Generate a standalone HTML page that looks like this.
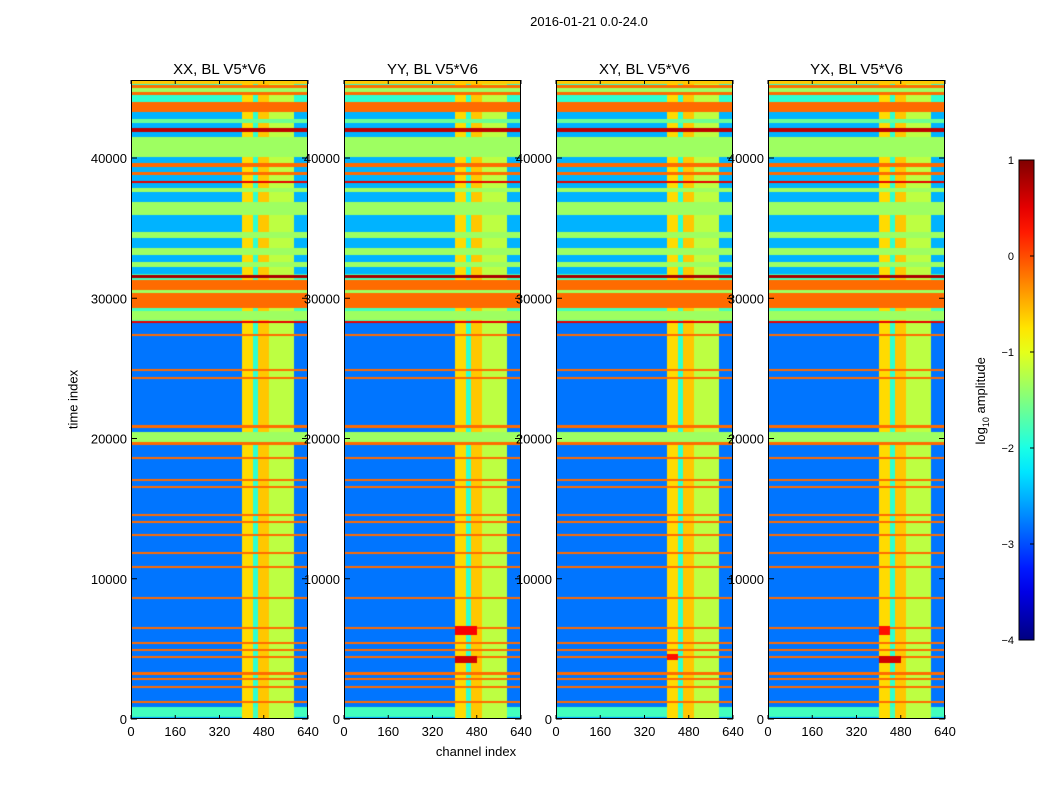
<!DOCTYPE html>
<html><head><meta charset="utf-8">
<style>
body{margin:0;background:#fff;}
#wrap{position:relative;width:1050px;height:800px;background:#fff;font-family:"Liberation Sans",sans-serif;overflow:hidden;}
.t{position:absolute;color:#000;white-space:nowrap;}
canvas{position:absolute;}
svg{position:absolute;left:0;top:0;}
</style></head>
<body>
<div id="wrap">
<div class="t" style="left:489px;top:14px;width:200px;text-align:center;font-size:13px;">2016-01-21 0.0-24.0</div>
<div class="t" style="left:23px;top:392px;width:100px;text-align:center;font-size:13px;transform:rotate(-90deg);">time index</div>
<div class="t" style="left:396px;top:744px;width:160px;text-align:center;font-size:13px;">channel index</div>
<div class="t" style="left:922px;top:392px;width:120px;text-align:center;font-size:13px;transform:rotate(-90deg);">log<sub style="font-size:9px">10</sub> amplitude</div>
<svg id="svg" width="1050" height="800"></svg>
</div>
<script>
// ---- data ----
const panelTitles = ["XX, BL V5*V6","YY, BL V5*V6","XY, BL V5*V6","YX, BL V5*V6"];
const xTicks = [0,160,320,480,640];
const yTicks = [0,10000,20000,30000,40000];
const cbTicks = [1,0,-1,-2,-3,-4];
// base level regions [tStart,tEnd,level]
const baseRegions = [[0,150,-2.6],[150,850,-1.8],[850,28250,-2.8],[28250,31700,-1.8],[31700,38200,-2.5],[38200,43300,-2.5],[43300,45560,-1.9]];
// full-width stripes [tStart,tEnd,level]
const stripes = [[45270,45560,-0.6],[44990,45200,-0.15],[44700,44990,-1.35],[44490,44700,-0.15],[43280,43990,-0.15],[42500,42800,-1.6],[41850,42140,0.7],[40070,41500,-1.35],[39350,39640,-0.15],[38790,39000,-0.15],[38220,38360,0.5],[37575,37860,-1.35],[35935,36860,-1.35],[34300,34720,-1.35],[33080,33580,-1.35],[32230,32580,-1.35],[31440,31660,0.8],[30590,31300,-0.15],[30370,30590,-1.35],[29300,30370,-0.15],[28450,29090,-1.35],[28250,28380,0.5],[27290,27450,-0.15],[24810,24960,-0.15],[24240,24390,-0.15],[20750,20960,-0.15],[19750,20460,-1.35],[19540,19750,-0.15],[18540,18680,-0.15],[16980,17110,-0.15],[16480,16600,-0.15],[14480,14600,-0.15],[13980,14100,-0.15],[13050,13170,-0.15],[11770,11890,-0.15],[10780,10900,-0.15],[8570,8690,-0.15],[6420,6560,-0.15],[5360,5460,-0.15],[4870,4970,-0.15],[4360,4470,-0.15],[3140,3350,-0.15],[2780,2900,-0.15],[2210,2330,-0.15],[1150,1270,-0.15]];
// channel bands [cStart,cEnd,level]
const channelBands = [[0,400,-4],[400,440,-0.7],[440,460,-1.9],[460,500,-0.6],[500,540,-1.2],[540,590,-1.2],[590,640,-4]];
// hot spots per panel [panel,tStart,tEnd,cStart,cEnd,level]
const hotSpots = [[1,4000,4500,400,480,0.6],[1,6000,6600,400,480,0.4],[2,4200,4600,400,440,0.3],[3,4000,4500,400,480,0.6],[3,6000,6600,400,440,0.3]];

// ---- geometry ----
const panelLeft = [131,344,556,768], panelW = 177, pTop = 80, pBot = 719;
const tMax = (pBot-pTop)/140.25*10000;
const vmin=-4, vmax=1;
function jet(v){let n=Math.max(0,Math.min(1,(v-vmin)/(vmax-vmin)));
 const f=x=>Math.round(255*Math.max(0,Math.min(1,1.5-Math.abs(x))));
 return [f(4*n-3),f(4*n-2),f(4*n-1)];}
function yOf(t){return pBot-(t/tMax)*(pBot-pTop);}
function xOf(p,c){return panelLeft[p]+c/640*panelW;}
function valueAt(p,t,c){
 for(const h of hotSpots){if(h[0]===p&&t>=h[1]&&t<h[2]&&c>=h[3]&&c<h[4])return h[5];}
 for(const s of stripes){if(t>=s[0]&&t<s[1])return s[2];}
 let base=-2.5;for(const b of baseRegions){if(t>=b[0]&&t<b[1])base=b[2];}
 let col=-4;for(const cb of channelBands){if(c>=cb[0]&&c<cb[1])col=cb[2];}
 return Math.max(base,col);
}
const wrap=document.getElementById('wrap');
const svg=document.getElementById('svg');
const NS="http://www.w3.org/2000/svg";
function mk(tag,attrs){const e=document.createElementNS(NS,tag);for(const k in attrs)e.setAttribute(k,attrs[k]);svg.appendChild(e);return e;}
for(let p=0;p<4;p++){
 const cv=document.createElement('canvas');
 
 
 cv.width=panelW;cv.height=pBot-pTop;cv.style.left=panelLeft[p]+'px';cv.style.top=pTop+'px';
 wrap.insertBefore(cv,svg);
 const ctx=cv.getContext('2d');const img=ctx.createImageData(cv.width,cv.height);
 for(let y=0;y<cv.height;y++){const t=(pBot-(pTop+y+0.5))/(pBot-pTop)*tMax;
  for(let x=0;x<cv.width;x++){const c=(x+0.5)/panelW*640;const col=jet(valueAt(p,t,c));
   const i=(y*cv.width+x)*4;img.data[i]=col[0];img.data[i+1]=col[1];img.data[i+2]=col[2];img.data[i+3]=255;}}
 ctx.putImageData(img,0,0);
 const fr=mk('rect',{x:panelLeft[p]+0.5,y:pTop+0.5,width:panelW-1,height:pBot-pTop-1,fill:'none',stroke:'#000','stroke-width':1});
 
 
 for(const xt of xTicks){const x=xOf(p,xt);
  mk('line',{x1:x,y1:pBot,x2:x,y2:pBot-4,stroke:'#000'});mk('line',{x1:x,y1:pTop,x2:x,y2:pTop+4,stroke:'#000'});
  const tx=mk('text',{x:x,y:pBot+17,'font-size':13,'text-anchor':'middle','font-family':'Liberation Sans'});tx.textContent=xt;
  
  }
 for(const yt of yTicks){const y=yOf(yt);
  mk('line',{x1:panelLeft[p],y1:y,x2:panelLeft[p]+6,y2:y,stroke:'#000'});mk('line',{x1:panelLeft[p]+panelW,y1:y,x2:panelLeft[p]+panelW-6,y2:y,stroke:'#000'});
  const tx=mk('text',{x:panelLeft[p]-4,y:y+5,'font-size':13,'text-anchor':'end','font-family':'Liberation Sans'});tx.textContent=yt;
  
  }
 const tt=mk('text',{x:panelLeft[p]+panelW/2,y:74,'font-size':15,'text-anchor':'middle','font-family':'Liberation Sans'});tt.textContent=panelTitles[p];
 
 
}
// colorbar
const cbX=1019,cbW=15,cbTop=160,cbBot=640;
const defs=mk('defs',{});const g=document.createElementNS(NS,'linearGradient');
g.setAttribute('id','jetg');g.setAttribute('x1','0');g.setAttribute('y1','1');g.setAttribute('x2','0');g.setAttribute('y2','0');defs.appendChild(g);
for(let i=0;i<=20;i++){const v=vmin+(vmax-vmin)*i/20;const c=jet(v);const s=document.createElementNS(NS,'stop');s.setAttribute('offset',i/20);s.setAttribute('stop-color','rgb('+c+')');g.appendChild(s);}
const cb=mk('rect',{x:cbX,y:cbTop,width:cbW,height:cbBot-cbTop,fill:'url(#jetg)',stroke:'#000'});


for(const v of cbTicks){const y=cbBot-(v-vmin)/(vmax-vmin)*(cbBot-cbTop);
 mk('line',{x1:cbX+cbW-4,y1:y,x2:cbX+cbW,y2:y,stroke:'#000'});
 const tx=mk('text',{x:cbX-5,y:y+4,'font-size':11,'text-anchor':'end','font-family':'Liberation Sans'});tx.textContent=(v<0?'\u2212'+(-v):v);
 
 }
</script>
</body></html>
